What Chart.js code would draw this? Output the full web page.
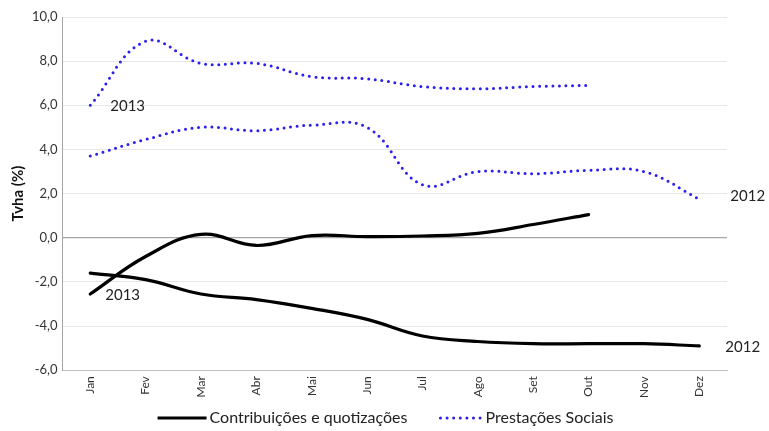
<!DOCTYPE html>
<html>
<head>
<meta charset="utf-8">
<script src="https://cdn.jsdelivr.net/npm/chart.js@4/dist/chart.umd.min.js"></script>
<style>
  html, body { margin: 0; padding: 0; background: #fff; }
  #wrap { width: 769px; height: 431px; }
</style>
</head>
<body>
<div id="wrap"><canvas id="c" width="769" height="431"></canvas></div>
<script>
// Months
const months = ['Jan','Fev','Mar','Abr','Mai','Jun','Jul','Ago','Set','Out','Nov','Dez'];

// Year-on-year change rates (%)
const contrib2012 = [-1.6, -1.9, -2.55, -2.8, -3.2, -3.7, -4.45, -4.7, -4.8, -4.8, -4.8, -4.9];
const contrib2013 = [-2.55, -0.85, 0.15, -0.35, 0.1, 0.05, 0.08, 0.2, 0.6, 1.05, null, null];
const prest2012 = [3.7, 4.45, 5.0, 4.85, 5.1, 5.0, 2.4, 3.0, 2.9, 3.05, 3.0, 1.75];
const prest2013 = [6.0, 8.9, 7.9, 7.9, 7.3, 7.2, 6.85, 6.75, 6.85, 6.9, null, null];

const yTicks = { min: -6, max: 10, step: 2 };

const FONT = 'Lato, "Open Sans", sans-serif';
const BLUE = '#2b1ff0';

const blackLine = { borderColor: '#000', borderWidth: 3.2, pointRadius: 0, tension: 0.4, fill: false, borderCapStyle: 'round', spanGaps: false };
const blueLine = { borderColor: BLUE, borderWidth: 3, pointRadius: 0, tension: 0.4, fill: false, borderDash: [0, 6.6], borderCapStyle: 'round', spanGaps: false };

// Year tags placed next to a chosen point of each series
const yearTags = {
  id: 'yearTags',
  afterDatasetsDraw(chart) {
    const ctx = chart.ctx;
    const x = chart.scales.x, y = chart.scales.y;
    ctx.save();
    ctx.font = '15px ' + FONT;
    ctx.fillStyle = '#222';
    ctx.textBaseline = 'middle';
    ctx.textAlign = 'left';
    const tags = [
      { text: '2013', i: 0, v: prest2013[0], dx: 20, dy: 1 },
      { text: '2013', i: 0, v: contrib2013[0], dx: 15, dy: 1 },
      { text: '2012', i: 11, v: prest2012[11], dx: 31, dy: -3 },
      { text: '2012', i: 11, v: contrib2012[11], dx: 26, dy: 1 }
    ];
    tags.forEach(t => {
      ctx.fillText(t.text, x.getPixelForValue(t.i) + t.dx, y.getPixelForValue(t.v) + t.dy);
    });
    ctx.restore();
  }
};

// Legend row under the axis: solid sample for contributions, dotted for benefits
const bottomLegend = {
  id: 'bottomLegend',
  afterDraw(chart) {
    const ctx = chart.ctx;
    const ds = chart.data.datasets;
    const items = [
      { label: ds[0].label, ds: ds[0], sample: 49 },
      { label: ds[1].label, ds: ds[1], sample: 44 }
    ];
    const gapText = 3, gapItem = 31;
    ctx.save();
    ctx.font = '16px ' + FONT;
    let total = 0;
    items.forEach((it, k) => {
      it.w = ctx.measureText(it.label).width;
      total += it.sample + gapText + it.w + (k ? gapItem : 0);
    });
    let x = (chart.width - total) / 2 + 1;
    const y = 418;
    items.forEach((it, k) => {
      if (k) x += gapItem;
      ctx.beginPath();
      ctx.strokeStyle = it.ds.borderColor;
      ctx.lineWidth = it.ds.borderWidth;
      ctx.lineCap = it.ds.borderDash ? 'round' : 'butt';
      ctx.setLineDash(it.ds.borderDash || []);
      ctx.moveTo(x + (it.ds.borderDash ? 2 : 0), y);
      ctx.lineTo(x + it.sample, y);
      ctx.stroke();
      ctx.setLineDash([]);
      x += it.sample + gapText;
      ctx.fillStyle = '#222';
      ctx.textBaseline = 'middle';
      ctx.textAlign = 'left';
      ctx.fillText(it.label, x, y);
      x += it.w;
    });
    ctx.restore();
  }
};

new Chart(document.getElementById('c'), {
  type: 'line',
  data: {
    labels: months,
    datasets: [
      Object.assign({ label: 'Contribuições e quotizações', data: contrib2012 }, blackLine),
      Object.assign({ label: 'Prestações Sociais', data: prest2012 }, blueLine),
      Object.assign({ label: 'Contribuições e quotizações 2013', data: contrib2013 }, blackLine),
      Object.assign({ label: 'Prestações Sociais 2013', data: prest2013 }, blueLine)
    ]
  },
  options: {
    responsive: false,
    animation: false,
    devicePixelRatio: 1,
    layout: { padding: { left: 9, right: 42, top: 17, bottom: 27 } },
    plugins: {
      tooltip: { enabled: false },
      legend: { display: false }
    },
    scales: {
      x: {
        offset: true,
        grid: { display: false, drawTicks: false },
        border: { color: '#bfbfbf' },
        ticks: { minRotation: 90, maxRotation: 90, font: { family: FONT, size: 12 }, color: '#333', padding: 6 }
      },
      y: {
        min: yTicks.min,
        max: yTicks.max,
        grid: {
          color: ctx => ctx.tick && ctx.tick.value === 0 ? '#a6a6a6' : '#e6e6e6',
          lineWidth: ctx => ctx.tick && ctx.tick.value === 0 ? 1.3 : 1,
          drawTicks: false
        },
        border: { color: '#a6a6a6', display: true },
        ticks: {
          stepSize: yTicks.step,
          font: { family: FONT, size: 13 },
          color: '#333',
          padding: 5,
          callback: v => v.toFixed(1).replace('.', ',')
        },
        title: { display: true, text: 'Tvha (%)', font: { family: FONT, size: 15, weight: 'bold' }, color: '#111', padding: 0 }
      }
    }
  },
  plugins: [yearTags, bottomLegend]
});
</script>
</body>
</html>
